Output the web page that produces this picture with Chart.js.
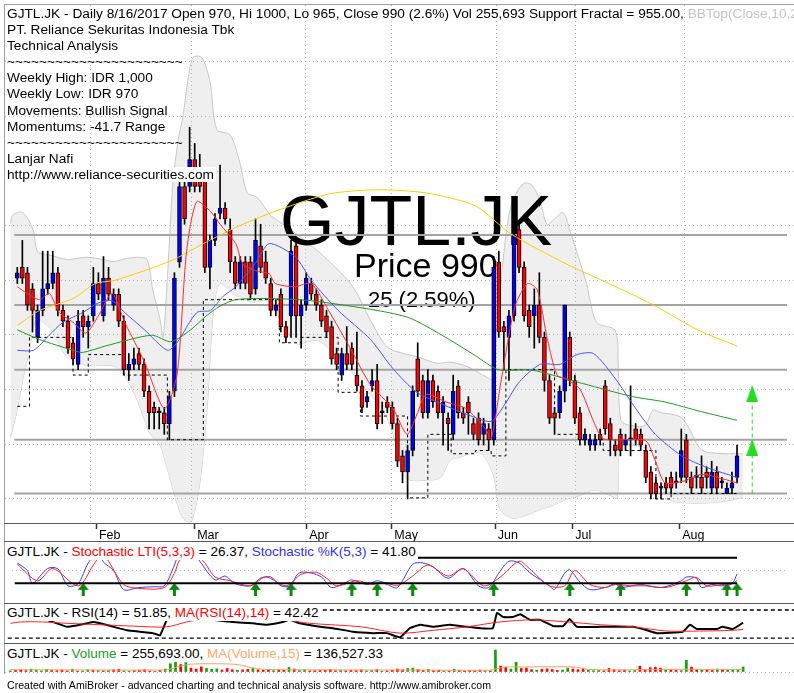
<!DOCTYPE html>
<html>
<head>
<meta charset="utf-8">
<script src="https://cdn.jsdelivr.net/npm/chart.js@4.4.1/dist/chart.umd.min.js"></script>
<style>
  body { margin: 0; background: #fff; }
  #wrap { position: relative; width: 794px; height: 693px; overflow: hidden; background: #fff;
          font-family: "Liberation Sans", Arial, sans-serif; color: #000; }
  canvas { position: absolute; }
  .rule { position: absolute; left: 4px; right: 0; height: 1px; background: #5a5a5a; }
  .txt { position: absolute; white-space: nowrap; font-size: 13.7px; line-height: 16.1px; }
  .pane-title { position: absolute; left: 5px; white-space: nowrap; font-size: 13.5px; line-height: 16px;
                background: #fff; padding: 0 2px; }
  .big { position: absolute; white-space: nowrap; line-height: 1; }
</style>
</head>
<body>
<div id="wrap">
  <canvas id="priceBg" width="789" height="536" style="left:5px;top:5px"></canvas>
  <div class="big" style="left:280px;top:186px;font-size:70px">GJTL.JK</div>
  <div class="big" style="left:354px;top:248px;font-size:34px">Price 990</div>
  <div class="big" style="left:368px;top:289px;font-size:22px">25 (2.59%)</div>
  <canvas id="priceFg" width="789" height="536" style="left:5px;top:5px"></canvas>
  <canvas id="stoch" width="789" height="61" style="left:5px;top:542px"></canvas>
  <canvas id="rsi" width="789" height="39" style="left:5px;top:604px"></canvas>
  <canvas id="vol" width="789" height="30" style="left:5px;top:644px"></canvas>

  <div class="rule" style="top:4px;background:#a0a0a0"></div>
  <div style="position:absolute;left:4px;top:4px;width:1px;height:670px;background:#a0a0a0"></div>
  <div class="rule" style="top:523px"></div>
  <div class="rule" style="top:541px"></div>
  <div class="rule" style="top:603px"></div>
  <div class="rule" style="top:643px"></div>

  <div class="txt" style="left:7px;top:6px">
    <div>GJTL.JK - Daily 8/16/2017 Open 970, Hi 1000, Lo 965, Close 990 (2.6%) Vol 255,693 Support Fractal = 955.00, <span style="color:#c4c4c4">BBTop(Close,10,2)</span></div>
    <div>PT. Reliance Sekuritas Indonesia Tbk</div>
    <div>Technical Analysis</div>
    <div>~~~~~~~~~~~~~~~~~~~~~~</div>
    <div>Weekly High: IDR 1,000</div>
    <div>Weekly Low: IDR 970</div>
    <div>Movements: Bullish Signal</div>
    <div>Momentums: -41.7 Range</div>
    <div>~~~~~~~~~~~~~~~~~~~~~~</div>
    <div>Lanjar Nafi</div>
    <div><span style="background:#fff;padding:0 2px;margin-left:-2px">http://www.reliance-securities.com</span></div>
  </div>

  <div class="pane-title" style="top:544px">GJTL.JK - <span style="color:#ff0000">Stochastic LTI(5,3,3)</span> = 26.37, <span style="color:#3030ff">Stochastic %K(5,3)</span> = 41.80</div>
  <div class="pane-title" style="top:605px">GJTL.JK - RSI(14) = 51.85, <span style="color:#ff0000">MA(RSI(14),14)</span> = 42.42</div>
  <div class="pane-title" style="top:646px">GJTL.JK - <span style="color:#20a020">Volume</span> = 255,693.00, <span style="color:#ffa868">MA(Volume,15)</span> = 136,527.33</div>
  <div class="txt" style="left:7px;top:679px;font-size:10.6px;line-height:12px">Created with AmiBroker - advanced charting and technical analysis software. http://www.amibroker.com</div>
</div>

<script>
// --- DATA (bar index 0 = 10 Jan 2017, 142 = 16 Aug 2017) ---
const monthIdx = [15.6, 35, 57.1, 73.9, 94.3, 109.6, 130.7];
const monthLabels = ['Feb', 'Mar', 'Apr', 'May', 'Jun', 'Jul', 'Aug'];
const priceGrid = [950, 1000, 1050, 1100, 1150, 1200, 1250, 1300, 1350];

const opens = [1155,1165,1160,1145,1100,1125,1145,1150,1160,1125,
  1115,1095,1075,1120,1110,1120,1150,1120,1155,1130,
  1140,1115,1070,1075,1085,1075,1050,1035,1030,1030,
  1020,1050,1170,1240,1240,1265,1255,1245,1165,1190,
  1215,1220,1200,1170,1150,1170,1170,1145,1185,1170,
  1150,1125,1140,1110,1120,1185,1120,1130,1150,1140,
  1130,1120,1110,1085,1065,1085,1090,1065,1055,1040,
  1055,1060,1030,1040,1035,1020,990,975,995,1080,
  1060,1030,1060,1050,1030,1025,1010,1055,1030,1040,
  1020,1025,1010,1015,1005,1170,1110,1100,1120,1200,
  1165,1125,1120,1130,1100,1060,1030,1030,1050,1100,
  1060,1030,1005,1000,1000,1010,1055,1020,1000,1010,
  1000,1005,1015,1010,995,975,965,960,965,970,
  965,970,1005,970,970,970,975,960,975,965,
  955,960,970];
const highs = [1165,1190,1165,1150,1130,1180,1180,1180,1165,1130,
  1120,1100,1125,1125,1120,1165,1160,1175,1165,1145,
  1145,1120,1085,1090,1090,1080,1055,1040,1035,1035,
  1050,1160,1245,1250,1295,1280,1270,1255,1195,1215,
  1260,1225,1210,1175,1175,1175,1175,1210,1205,1180,
  1155,1135,1145,1115,1190,1190,1135,1160,1155,1145,
  1135,1125,1115,1090,1090,1110,1095,1105,1060,1050,
  1070,1075,1040,1045,1040,1025,995,1000,1055,1095,
  1065,1070,1065,1055,1045,1030,1065,1060,1035,1045,
  1025,1030,1025,1020,1175,1180,1115,1125,1200,1205,
  1170,1130,1145,1160,1105,1065,1035,1055,1130,1105,
  1065,1035,1015,1010,1010,1015,1060,1025,1005,1015,
  1010,1055,1020,1015,1000,980,970,965,970,975,
  975,1015,1010,975,980,990,980,985,980,970,
  965,975,1000];
const lows = [1150,1150,1125,1105,1095,1120,1140,1145,1120,1110,
  1085,1075,1070,1100,1090,1115,1135,1115,1135,1125,
  1110,1065,1060,1070,1070,1045,1015,1015,1015,1010,
  1005,1045,1165,1205,1235,1235,1235,1160,1145,1185,
  1210,1205,1160,1145,1145,1145,1135,1140,1160,1150,
  1120,1120,1105,1095,1100,1100,1090,1125,1135,1125,
  1110,1100,1075,1070,1060,1070,1070,1050,1030,1035,
  1050,1015,1020,1030,1015,980,965,950,990,1045,
  1025,1025,1035,1025,1000,995,1005,1025,1020,1010,
  1005,1000,1000,995,1000,1100,1070,1060,1115,1160,
  1115,1100,1090,1095,1050,1020,1010,1025,1040,1055,
  1020,1000,1000,995,995,1000,1010,990,990,990,
  995,990,1000,995,965,950,950,950,955,955,
  960,965,965,955,960,955,960,955,955,960,
  955,955,965];
const closes = [1160,1155,1130,1125,1125,1145,1150,1160,1125,1115,
  1090,1080,1115,1110,1115,1150,1140,1155,1140,1140,
  1115,1070,1075,1080,1075,1050,1030,1030,1030,1020,
  1045,1155,1240,1210,1265,1240,1240,1165,1190,1210,
  1220,1210,1170,1150,1170,1150,1140,1190,1165,1155,
  1125,1130,1110,1100,1180,1120,1130,1155,1140,1130,
  1115,1105,1080,1075,1085,1075,1075,1055,1035,1045,
  1060,1020,1030,1035,1020,985,975,995,1050,1050,
  1030,1060,1040,1030,1040,1020,1050,1030,1025,1030,
  1010,1005,1020,1005,1165,1105,1105,1120,1195,1165,
  1120,1110,1130,1100,1060,1025,1025,1050,1130,1060,
  1025,1005,1010,1005,1005,1005,1015,1005,995,995,
  1005,1005,1005,1000,970,955,955,960,960,960,
  965,995,970,960,970,960,970,975,960,965,
  960,965,990];
const volumes = [60000,80000,120000,70000,150000,90000,60000,130000,80000,70000,
  100000,60000,140000,50000,60000,110000,90000,70000,60000,80000,
  110000,140000,60000,50000,70000,90000,120000,60000,40000,80000,
  150000,420000,520000,380000,480000,200000,150000,260000,180000,140000,
  160000,100000,180000,120000,90000,110000,130000,200000,110000,90000,
  120000,70000,110000,90000,230000,150000,80000,120000,60000,70000,
  80000,90000,130000,70000,80000,60000,90000,70000,110000,60000,
  80000,120000,50000,60000,90000,150000,110000,180000,200000,120000,
  80000,130000,70000,90000,60000,50000,140000,90000,60000,80000,
  70000,100000,80000,60000,1120000,300000,250000,150000,500000,180000,
  200000,120000,90000,140000,160000,130000,80000,100000,200000,150000,
  120000,160000,90000,70000,80000,60000,180000,110000,70000,90000,
  60000,80000,300000,110000,220000,240000,200000,90000,110000,80000,
  70000,600000,250000,110000,90000,120000,80000,150000,130000,100000,
  110000,120000,255693];

// support / resistance levels and the fractal support step line
const srLevels = [1195, 1130, 1070, 1005, 955];
const supportIdx = [0, 2.4, 11, 14, 21, 29.6, 36.7, 51.7, 56, 63.3, 67.7, 77, 81, 85.6, 90.4, 93.5, 96.4, 106, 111.3, 115.6, 126, 129, 142];
const supportVal = [1036, 1100, 1065, 1084, 1065, 1005, 1135, 1095, 1100, 1049, 1027, 951, 1010, 992, 995, 990, 1070, 1010, 1005, 995, 950, 955, 955];

// moving averages
const maRedIdx = [0,1.9,4.4,6.3,8.3,11,13.5,16,18.7,21.2,25.1,29,31.5,33.4,35.4,38.1,40,43.1,44.5,47,49.7,50.9,54.8,58,61.4,65.8,69.7,74.1,76.9,78.8,80.7,84.6,88.5,92.4,93.5,95.5,98.2,100.7,102.6,104.6,106.5,108.4,111,113.7,115.6,120.1,124,125.9,127.8,131.7,135,138.9,142];
const maRedVal = [1147,1141,1135,1141,1123,1114,1104,1120,1141,1114,1077,1034,1065,1180,1226,1217,1205,1187,1168,1162,1159,1150,1147,1150,1125,1089,1056,1034,1010,1028,1047,1040,1034,1015,1006,1061,1129,1150,1144,1098,1065,1061,1052,1022,1006,1005,1004,985,965,967,973,969,965];
const maBlueIdx = [0,3.2,6.3,9,12.9,16,18.7,21.2,25.1,29.6,31.5,35.4,38.1,40.6,43.1,47,49.7,54.8,58,63.3,69.7,74.1,78.8,83.8,89,93.5,96.2,99.1,103.2,107.1,110.4,113.7,118.1,122,125.9,131.1,136.2,142];
const maBlueVal = [1088,1088,1102,1114,1123,1132,1134,1123,1107,1088,1095,1123,1125,1138,1147,1169,1187,1175,1153,1125,1098,1071,1049,1038,1028,1022,1038,1059,1075,1075,1084,1085,1061,1034,1010,990,979,970];
const maGreenIdx = [0,4.4,11,12.9,17.4,26.5,30.3,34.2,37.3,40,43.1,50.3,58,71,77.4,83.8,90.4,94.9,100.7,103.2,111.7,121.4,127.8,135,142];
const maGreenVal = [1107,1098,1088,1086,1092,1102,1096,1107,1120,1129,1135,1136,1134,1125,1118,1102,1083,1070,1070,1068,1057,1045,1040,1031,1023];
const maYellowIdx = [0,4.4,11,15.4,19.3,30.3,36.7,43.1,50.3,61.4,71,80.7,90.4,97.4,108.4,118.1,125.9,134.2,142];
const maYellowVal = [1111,1125,1136,1150,1153,1171,1187,1202,1216,1233,1237,1234,1222,1196,1168,1147,1129,1107,1092];

// Bollinger bands (10, 2)
const bbTopIdx = [0,0.5,2.4,4.4,5.3,7.7,11,14.8,18,19.9,22.6,25.1,26.5,27.6,29,29.6,30.5,31.5,32.5,33.4,34.4,35.4,37.1,38.7,40,42.6,44.5,45.9,47.8,50.3,51.7,56.1,61.4,66.4,69.7,73,76.1,78.8,82.7,85.2,88.5,92.4,93.5,94.3,95.5,96.8,98.4,99.7,101.1,102.6,104,105.2,107.1,108.4,111.7,112.3,113.7,117.2,117.8,118.3,120.1,123,124.5,125.9,129.8,131.7,133.6,135.6,142];
const bbTopVal = [1202,1210,1212,1196,1176,1173,1169,1171,1169,1167,1170,1171,1169,1141,1114,1098,1159,1239,1278,1299,1333,1354,1354,1331,1288,1283,1257,1230,1226,1210,1205,1190,1169,1144,1114,1089,1083,1080,1074,1075,1071,1061,1059,1104,1169,1214,1233,1239,1237,1223,1201,1205,1212,1196,1146,1132,1111,1104,1071,1022,1017,1017,1031,1029,1025,1013,996,992,991];
const bbBotIdx = [0,1.3,2.4,3.8,4.4,5.3,7.7,9,11,14.8,17.4,20.3,22.6,25.1,27,29,30.3,32.9,34.2,35.2,36.7,38.1,39.3,40.6,43.1,47,50.3,52.2,55.5,59.4,62.5,65.8,69.1,72.2,74.1,76.1,77.4,80.7,83.3,85.2,87.1,91,93.5,94.9,97.4,100.1,102.6,105.2,107.5,110.4,113.3,116.2,117.6,118.3,123,124.3,125.9,127.8,131.7,137.5,142];
const bbBotVal = [1006,1031,1059,1089,1107,1114,1106,1095,1080,1072,1072,1071,1059,1034,1010,999,979,937,929,930,964,1031,1120,1147,1138,1130,1132,1115,1092,1095,1084,1068,1049,1031,1010,973,967,967,969,985,988,992,973,940,932,935,940,944,949,953,958,953,951,997,997,993,967,949,946,947,951];

// projection arrows on the right of the price pane
const targetIdx = 145;
const targetHeads = [1048, 998];
const targetStem = [955, 1040];
const sellMarker = { x: 103, y: 1225 };

// stochastic pane
const stochLevels = [80, 20];
const stochKIdx = [0,2,3,6,8,10,12,14,16,17,19,21,24,27,29,31,32,33,34,35,36,39,41,43,46,48,50,52,54,55,56,58,60,62,65,66,69,71,73,75,78,80,82,85,88,91,93,95,97,99,101,105,106,108,109,111,113,116,118,119,123,127,131,132,134,135,137,139,141,142];
const stochKVal = [68,50,20,55,54,14,19,68,95,70,50,5,10,12,14,63,95,98,98,90,72,28,37,19,14,32,35,14,14,37,46,44,35,10,23,28,17,26,17,10,65,68,59,32,55,14,10,44,72,68,46,14,5,44,52,23,5,10,19,10,17,10,26,35,32,10,17,14,19,41.8];
const stochLtiIdx = [0,4,7,12,15,16,17,18,21,24,29,31,32,34,36,37,39,42,46,49,53,56,59,61,63,67,70,72,75,78,81,85,88,92,95,99,101,105,108,110,113,116,118,121,124,128,132,134,136,139,141,142];
const stochLtiVal = [65,26,55,14,63,80,90,72,17,8,10,44,74,95,80,68,35,26,14,35,14,41,46,32,14,26,17,23,15,37,63,37,54,14,32,72,55,14,14,50,17,10,17,14,14,10,26,34,14,17,19,26.37];
const buyIdx = [13, 31, 47, 54, 66, 71, 78, 94, 109, 119, 132, 140, 142];
const buyLevel = 4.5;

// RSI pane
const rsiLevels = [70, 30];
const rsiIdx = [7,9,11,13.5,16,17.4,20,22.6,25,27.6,29,30.3,31,33.8,36.7,39.3,43.1,47,49.7,52.8,54.2,56.1,60,62.5,66.4,70.3,73,75.5,77.4,79.4,81.9,85.2,88.5,91,93.5,94.3,95.5,97.4,98.8,100.7,102.6,105.2,107.1,108.4,109.8,114.3,120.7,123.4,125.3,130.3,131.7,133,137,138,140,142];
const rsiVal = [56,51,46,49,53,51,46,41,39,37,34,56,67,73,66,56,53,51,49,53,56,51,46,44,39,37,37,31,44,49,46,49,46,44,44,66,60,60,64,56,56,47,47,57,46,46,46,41,37,39,49,43,43,46,43,51.85];
const rsiMaIdx = [0,2,6,11,17.4,24,30.3,34.2,36.7,46.4,53,58,68,75.5,81.9,88.5,94.9,101.3,107.9,114.3,120.7,127.2,133.6,140,142];
const rsiMaVal = [51,53,53,51,49,47,46,53,56,60,56,51,46,37,41,46,53,56,53,49,46,40,40,41,42.42];

// volume moving average
const volMaIdx = [0,30,31,33,35,40,44,47,50,60,80,93,94,96,100,108,110,112,120,131,136,142];
const volMaVal = [120000,100000,150000,300000,400000,420000,380000,200000,130000,110000,100000,90000,150000,250000,260000,270000,230000,130000,110000,140000,130000,136527];

// --- SETUP ---
const FONT = '"Liberation Sans", Arial, sans-serif';
const X_MIN = -1.047, X_MAX = 151.86;
const pts = (xs, ys) => xs.map((x, k) => ({ x, y: ys[k] }));
const hLine = (y, x0, x1) => [{ x: x0, y }, { x: x1, y }];
const isUp = (i) => closes[i] >= opens[i];

const baseOpts = {
  responsive: false,
  animation: false,
  devicePixelRatio: 1,
  events: [],
  layout: { padding: 0 },
  plugins: { legend: { display: false }, tooltip: { enabled: false } },
};

function plainX() {
  return { type: 'linear', min: X_MIN, max: X_MAX, offset: false, display: false, grid: { offset: false } };
}

function priceX(front) {
  return {
    type: 'linear', min: X_MIN, max: X_MAX, offset: false, position: 'bottom',
    afterBuildTicks: (s) => { s.ticks = monthIdx.map((v) => ({ value: v })); },
    afterFit: (s) => { s.height = 18; },
    ticks: {
      autoSkip: false, maxRotation: 0, align: 'start', padding: -1,
      color: front ? '#000' : 'transparent',
      font: { family: FONT, size: 12.5 },
      callback: (v) => '\u2009' + monthLabels[monthIdx.indexOf(v)],
    },
    grid: {
      offset: false, drawOnChartArea: !front, drawTicks: true, tickLength: 6,
      tickColor: front ? '#333' : 'transparent', tickWidth: 1.5,
      color: front ? '#333' : '#b4b4b4', z: 1,
    },
    border: { display: false, dash: front ? [] : [1, 3] },
  };
}

function lineDs(data, color, width, extra) {
  return Object.assign({
    type: 'line', data, borderColor: color, borderWidth: width,
    pointRadius: 0, fill: false, tension: 0.25,
  }, extra || {});
}

function makeArrow(color, w, h, stem) {
  const c = document.createElement('canvas');
  c.width = w; c.height = h;
  const g = c.getContext('2d');
  g.fillStyle = color;
  const headH = stem ? Math.round(h * 0.5) : h;
  g.beginPath(); g.moveTo(w / 2, 0); g.lineTo(w, headH); g.lineTo(0, headH); g.closePath(); g.fill();
  if (stem) g.fillRect(w / 2 - 1.5, headH, 3, h - headH);
  return c;
}

// --- PRICE PANE: background layer (grid + Bollinger band) ---
new Chart(document.getElementById('priceBg'), {
  type: 'line',
  data: {
    datasets: [
      lineDs(pts(bbTopIdx, bbTopVal), '#c8c8c8', 1, { fill: '+1', backgroundColor: '#efefef', tension: 0.3 }),
      lineDs(pts(bbBotIdx, bbBotVal), '#c8c8c8', 1, { tension: 0.3 }),
    ],
  },
  options: Object.assign({}, baseOpts, {
    scales: {
      x: priceX(false),
      y: {
        type: 'linear', min: 927.7, max: 1402, display: true,
        afterBuildTicks: (s) => { s.ticks = priceGrid.map((v) => ({ value: v })); },
        afterFit: (s) => { s.width = 0; },
        ticks: { display: false },
        grid: { drawTicks: false, color: '#b4b4b4', z: 1 },
        border: { display: false, dash: [1, 3] },
      },
    },
  }),
});

// --- PRICE PANE: front layer (levels, candles, averages) ---
const priceSets = [];
srLevels.forEach((lv) => priceSets.push(lineDs(hLine(lv, -0.6, X_MAX), '#a4a4a4', 2, { order: 20, tension: 0 })));
priceSets.push(lineDs(pts(supportIdx, supportVal), '#000', 1, { order: 15, stepped: true, borderDash: [3, 3], tension: 0 }));
priceSets.push({
  type: 'bar', order: 10, grouped: false, barThickness: 1,
  data: opens.map((o, i) => ({ x: i, y: [lows[i], highs[i]] })),
  backgroundColor: '#000',
});
priceSets.push({
  type: 'bar', order: 9, grouped: false, barThickness: 4, minBarLength: 2,
  data: opens.map((o, i) => ({ x: i, y: [Math.min(o, closes[i]), Math.max(o, closes[i])] })),
  backgroundColor: opens.map((o, i) => (isUp(i) ? '#0000ff' : '#ff0000')),
  borderColor: '#000', borderWidth: 1, borderSkipped: false,
});
priceSets.push(lineDs(pts(maYellowIdx, maYellowVal), '#ffcc00', 1, { order: 4 }));
priceSets.push(lineDs(pts(maGreenIdx, maGreenVal), '#1f9a1f', 1, { order: 3 }));
priceSets.push(lineDs(pts(maBlueIdx, maBlueVal), '#4a55ff', 1, { order: 2 }));
priceSets.push(lineDs(pts(maRedIdx, maRedVal), '#ff2a2a', 1, { order: 1 }));
priceSets.push(lineDs(targetStem.map((v) => ({ x: targetIdx, y: v })), '#22dd22', 1, { order: 1, borderDash: [4, 3], tension: 0 }));
priceSets.push({
  type: 'line', order: 0, showLine: false,
  data: targetHeads.map((v) => ({ x: targetIdx, y: v })),
  pointStyle: makeArrow('#22dd22', 12, 17, false), pointRadius: 6,
});
priceSets.push({
  type: 'line', order: 0, showLine: false, data: [sellMarker],
  pointStyle: 'triangle', rotation: 180, pointRadius: 4,
  backgroundColor: '#000', borderColor: '#000', borderWidth: 0,
});

new Chart(document.getElementById('priceFg'), {
  type: 'bar',
  data: { datasets: priceSets },
  options: Object.assign({}, baseOpts, {
    scales: {
      x: priceX(true),
      y: { type: 'linear', min: 927.7, max: 1402, display: false },
    },
  }),
});

// --- STOCHASTIC PANE ---
new Chart(document.getElementById('stoch'), {
  type: 'line',
  data: {
    datasets: [
      ...stochLevels.map((lv) => lineDs(hLine(lv, -0.5, 142), '#000', 2, { tension: 0 })),
      lineDs(pts(stochLtiIdx, stochLtiVal), '#ff2020', 1, { tension: 0.3 }),
      lineDs(pts(stochKIdx, stochKVal), '#3a3aff', 1, { tension: 0.3 }),
      {
        type: 'line', showLine: false,
        data: buyIdx.map((x) => ({ x, y: buyLevel })),
        pointStyle: makeArrow('#0a8a0a', 11, 14, true), pointRadius: 6,
      },
    ],
  },
  options: Object.assign({}, baseOpts, {
    scales: {
      x: plainX(),
      y: {
        type: 'linear', min: -10, max: 100.9, display: true,
        afterBuildTicks: (s) => { s.ticks = [{ value: 50 }]; },
        afterFit: (s) => { s.width = 0; },
        ticks: { display: false },
        grid: { drawTicks: false, color: '#b4b4b4' },
        border: { display: false, dash: [1, 3] },
      },
    },
  }),
});

// --- RSI PANE ---
new Chart(document.getElementById('rsi'), {
  type: 'line',
  data: {
    datasets: [
      ...rsiLevels.map((lv) => lineDs(hLine(lv, -0.5, X_MAX), '#000', 1.3, { borderDash: [4, 3], tension: 0 })),
      lineDs(pts(rsiMaIdx, rsiMaVal), '#ff2020', 1, { tension: 0.3 }),
      lineDs(pts(rsiIdx, rsiVal), '#000', 2, { tension: 0.1 }),
    ],
  },
  options: Object.assign({}, baseOpts, {
    scales: { x: plainX(), y: { type: 'linear', min: 22.9, max: 78.6, display: false } },
  }),
});

// --- VOLUME PANE ---
new Chart(document.getElementById('vol'), {
  type: 'bar',
  data: {
    datasets: [
      lineDs(pts(volMaIdx, volMaVal), '#ffa060', 1, { tension: 0.3 }),
      {
        type: 'bar', grouped: false, barThickness: 2,
        data: volumes.map((v, i) => ({ x: i, y: v })),
        backgroundColor: volumes.map((v, i) => (isUp(i) ? '#10a010' : '#ff0000')),
      },
    ],
  },
  options: Object.assign({}, baseOpts, {
    scales: {
      x: plainX(),
      y: {
        type: 'linear', min: -102000, max: 1428000, display: true,
        afterBuildTicks: (s) => { s.ticks = [{ value: 0 }]; },
        afterFit: (s) => { s.width = 0; },
        ticks: { display: false },
        grid: { drawTicks: false, color: '#b4b4b4' },
        border: { display: false, dash: [1, 3] },
      },
    },
  }),
});
</script>
</body>
</html>
